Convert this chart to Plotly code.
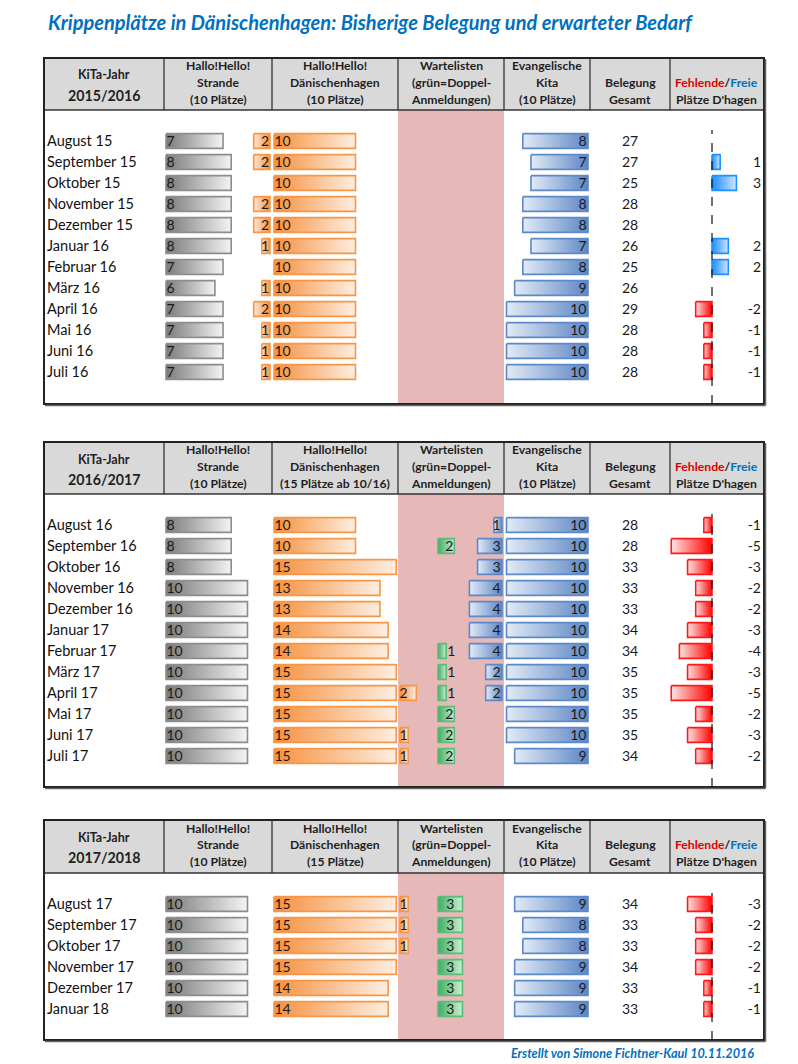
import plotly.graph_objects as go

W, H = 798, 1064
U = 8.15      # pixels per place on the shared x axis
ROW = 21      # pixels per row
FONT = "Lato"

# ------------------------------------------------------------------ data
title_text = "Krippenplätze in Dänischenhagen: Bisherige Belegung und erwarteter Bedarf"
footer_text = "Erstellt von Simone Fichtner-Kaul 10.11.2016"

years = ["2015/2016", "2016/2017", "2017/2018"]
daen_headers = ["(10 Plätze)", "(15 Plätze ab 10/16)", "(15 Plätze)"]

months_1 = ["August 15", "September 15", "Oktober 15", "November 15", "Dezember 15", "Januar 16",
            "Februar 16", "März 16", "April 16", "Mai 16", "Juni 16", "Juli 16"]
strande_1 = [7, 8, 8, 8, 8, 8, 7, 6, 7, 7, 7, 7]
daen_1 = [10, 10, 10, 10, 10, 10, 10, 10, 10, 10, 10, 10]
wait_orange_1 = [2, 2, 0, 2, 2, 1, 0, 1, 2, 1, 1, 1]
wait_green_1 = [0, 0, 0, 0, 0, 0, 0, 0, 0, 0, 0, 0]
wait_blue_1 = [0, 0, 0, 0, 0, 0, 0, 0, 0, 0, 0, 0]
evang_1 = [8, 7, 7, 8, 8, 7, 8, 9, 10, 10, 10, 10]
gesamt_1 = [27, 27, 25, 28, 28, 26, 25, 26, 29, 28, 28, 28]
diff_1 = [0, 1, 3, 0, 0, 2, 2, 0, -2, -1, -1, -1]

months_2 = ["August 16", "September 16", "Oktober 16", "November 16", "Dezember 16", "Januar 17",
            "Februar 17", "März 17", "April 17", "Mai 17", "Juni 17", "Juli 17"]
strande_2 = [8, 8, 8, 10, 10, 10, 10, 10, 10, 10, 10, 10]
daen_2 = [10, 10, 15, 13, 13, 14, 14, 15, 15, 15, 15, 15]
wait_orange_2 = [0, 0, 0, 0, 0, 0, 0, 0, 2, 0, 1, 1]
wait_green_2 = [0, 2, 0, 0, 0, 0, 1, 1, 1, 2, 2, 2]
wait_blue_2 = [1, 3, 3, 4, 4, 4, 4, 2, 2, 0, 0, 0]
evang_2 = [10, 10, 10, 10, 10, 10, 10, 10, 10, 10, 10, 9]
gesamt_2 = [28, 28, 33, 33, 33, 34, 34, 35, 35, 35, 35, 34]
diff_2 = [-1, -5, -3, -2, -2, -3, -4, -3, -5, -2, -3, -2]

months_3 = ["August 17", "September 17", "Oktober 17", "November 17", "Dezember 17", "Januar 18"]
strande_3 = [10, 10, 10, 10, 10, 10]
daen_3 = [15, 15, 15, 15, 14, 14]
wait_orange_3 = [1, 1, 1, 0, 0, 0]
wait_green_3 = [3, 3, 3, 3, 3, 3]
wait_blue_3 = [0, 0, 0, 0, 0, 0]
evang_3 = [9, 8, 8, 9, 9, 9]
gesamt_3 = [34, 33, 33, 34, 33, 33]
diff_3 = [-3, -2, -2, -2, -1, -1]

# ------------------------------------------------------------------ layout constants
TABLES = [
    dict(top=58, hdr=110, bot=404, orange_left=True),
    dict(top=442, hdr=494, bot=787, orange_left=False),
    dict(top=820, hdr=873, bot=1040, orange_left=False),
]
X_L, X_R = 44, 764
SEPS = [164, 272, 398, 504, 590, 670]
PINK = (398, 504)

X_STRANDE = 166
X_DAEN = 274
X_ORANGE_T1_END = 270
X_ORANGE = 400
X_GREEN = 438
X_BLUE_END = 502
X_EVANG_END = 588
X_GESAMT = 630
X_ZERO = 712
X_DIFF_LBL = 761
BAR_H = 0.35

STY = {
    "gray":   (["#7a7a7a", "#f4f4f4"], "#8d8d8d"),
    "orange": (["#f6913e", "#fdeee2"], "#f79646"),
    "orange_r": (["#fde9d9", "#f6913e"], "#f79646"),
    "green":  (["#3fae62", "#c9efd3"], "#5dbb78"),
    "blue":   (["#e3ebf6", "#5c86c4"], "#5b89c9"),
    "red":    (["#ffe4e4", "#ff0000"], "#ff1a1a"),
    "bfree":  (["#1a8cff", "#cfe6ff"], "#1e90ff"),
}

fig = go.Figure()


def py(y):
    return 1 - y / H


def bar(x0, x1, row, style, yref):
    cols, border = STY[style]
    fig.add_trace(go.Scatter(
        x=[x0, x1, x1, x0, x0],
        y=[row - BAR_H, row - BAR_H, row + BAR_H, row + BAR_H, row - BAR_H],
        mode="lines", fill="toself",
        fillgradient=dict(type="horizontal", colorscale=[[0, cols[0]], [1, cols[1]]]),
        line=dict(color=border, width=1.6),
        hoverinfo="skip", showlegend=False, yaxis=yref,
    ))


def labels(xs, rows, texts, pos, yref, size=14, color="#1a1a1a"):
    fig.add_trace(go.Scatter(
        x=xs, y=[r + 0.05 for r in rows], text=texts, mode="text", textposition=pos,
        textfont=dict(family=FONT, size=size, color=color),
        hoverinfo="skip", showlegend=False, yaxis=yref, cliponaxis=False,
    ))


datasets = [
    (months_1, strande_1, daen_1, wait_orange_1, wait_green_1, wait_blue_1, evang_1, gesamt_1, diff_1),
    (months_2, strande_2, daen_2, wait_orange_2, wait_green_2, wait_blue_2, evang_2, gesamt_2, diff_2),
    (months_3, strande_3, daen_3, wait_orange_3, wait_green_3, wait_blue_3, evang_3, gesamt_3, diff_3),
]

shapes = []
annotations = []

for ti, (t, data) in enumerate(zip(TABLES, datasets)):
    months, strande, daen, w_or, w_gr, w_bl, evang, gesamt, diff = data
    n = len(months)
    yref = "y" if ti == 0 else f"y{ti + 1}"
    axname = "yaxis" if ti == 0 else f"yaxis{ti + 1}"
    first = t["hdr"] + 31
    fig.update_layout(**{axname: dict(
        domain=[py(t["bot"]), py(t["hdr"])],
        range=[(t["bot"] - first) / ROW, -(first - t["hdr"]) / ROW],
        visible=False, fixedrange=True)})
    rows = list(range(n))

    # background / frame shapes
    shapes.append(dict(type="rect", xref="x", yref="paper", x0=X_L, x1=X_R,
                       y0=py(t["hdr"]), y1=py(t["top"]), fillcolor="#d9d9d9",
                       line=dict(width=0), layer="below"))
    shapes.append(dict(type="rect", xref="x", yref="paper", x0=PINK[0], x1=PINK[1],
                       y0=py(t["bot"]), y1=py(t["hdr"]), fillcolor="#e6b9b8",
                       line=dict(width=0), layer="below"))
    for sx in SEPS:
        shapes.append(dict(type="line", xref="x", yref="paper", x0=sx, x1=sx,
                           y0=py(t["hdr"]), y1=py(t["top"]), line=dict(color="#333", width=1.3)))
    shapes.append(dict(type="line", xref="x", yref="paper", x0=X_L, x1=X_R,
                       y0=py(t["hdr"]), y1=py(t["hdr"]), line=dict(color="#333", width=1.3)))
    shapes.append(dict(type="rect", xref="x", yref="paper", x0=X_L, x1=X_R,
                       y0=py(t["bot"]), y1=py(t["top"]), line=dict(color="#222", width=2)))
    # soft shadow on right / bottom edges
    shapes.append(dict(type="line", xref="x", yref="paper", x0=X_L + 1, x1=X_R + 1.5,
                       y0=py(t["bot"] + 1.5), y1=py(t["bot"] + 1.5), line=dict(color="#666", width=1.5)))
    shapes.append(dict(type="line", xref="x", yref="paper", x0=X_R + 1.5, x1=X_R + 1.5,
                       y0=py(t["bot"] + 1.5), y1=py(t["top"] + 1), line=dict(color="#666", width=1.5)))
    shapes.append(dict(type="line", xref="x", yref="paper", x0=X_ZERO, x1=X_ZERO,
                       y0=py(t["bot"]), y1=py(first - 11), line=dict(color="#111", width=1.2, dash="dash")))

    # header texts
    top = t["top"]

    def hdr(x, y, text, size=12.2):
        annotations.append(dict(x=x, y=py(top + y), xref="x", yref="paper", text=text,
                                showarrow=False, xanchor="center", yanchor="middle",
                                font=dict(family=FONT, size=size, color="#1f1f1f")))

    hdr(104, 17, "<b>KiTa-Jahr</b>", 12.5)
    hdr(104, 37.5, "<b>" + years[ti] + "</b>", 14.2)
    for x, lines in [(218, ["Hallo!Hello!", "Strande", "(10 Plätze)"]),
                     (335, ["Hallo!Hello!", "Dänischenhagen", daen_headers[ti]]),
                     (451, ["Wartelisten", "(grün=Doppel-", "Anmeldungen)"]),
                     (547, ["Evangelische", "Kita", "(10 Plätze)"])]:
        for k, ln in enumerate(lines):
            hdr(x, 8 + 16.8 * k, "<b>" + ln + "</b>")
    hdr(630, 24.8, "<b>Belegung</b>")
    hdr(630, 41.6, "<b>Gesamt</b>")
    hdr(716, 24.8, "<b><span style='color:#e00000'>Fehlende</span>/<span style='color:#0070c0'>Freie</span></b>")
    hdr(716, 41.6, "<b>Plätze D'hagen</b>")

    # bars
    for r in rows:
        bar(X_STRANDE, X_STRANDE + strande[r] * U, r, "gray", yref)
        bar(X_DAEN, X_DAEN + daen[r] * U, r, "orange", yref)
        if w_or[r]:
            if t["orange_left"]:
                bar(X_ORANGE_T1_END - w_or[r] * U, X_ORANGE_T1_END, r, "orange_r", yref)
            else:
                bar(X_ORANGE, X_ORANGE + w_or[r] * U, r, "orange", yref)
        if w_gr[r]:
            bar(X_GREEN, X_GREEN + w_gr[r] * U, r, "green", yref)
        if w_bl[r]:
            bar(X_BLUE_END - w_bl[r] * U, X_BLUE_END, r, "blue", yref)
        bar(X_EVANG_END - evang[r] * U, X_EVANG_END, r, "blue", yref)
        if diff[r] > 0:
            bar(X_ZERO, X_ZERO + diff[r] * U, r, "bfree", yref)
        elif diff[r] < 0:
            bar(X_ZERO + diff[r] * U, X_ZERO, r, "red", yref)

    # texts
    labels([47] * n, rows, months, "middle right", yref, size=14.5, color="#111")
    labels([X_STRANDE + 0.5] * n, rows, [str(v) for v in strande], "middle right", yref)
    labels([X_DAEN + 0.5] * n, rows, [str(v) for v in daen], "middle right", yref)
    if t["orange_left"]:
        labels([X_ORANGE_T1_END - 1] * n, rows, [str(v) if v else "" for v in w_or], "middle left", yref)
    else:
        labels([X_ORANGE - 0.5] * n, rows, [str(v) if v else "" for v in w_or], "middle right", yref)
    for r in rows:
        v = w_gr[r]
        if v == 1:
            labels([X_GREEN + v * U + 1], [r], ["1"], "middle right", yref)
        elif v == 2:
            labels([X_GREEN + v * U - 1], [r], [str(v)], "middle left", yref)
        elif v > 2:
            labels([X_GREEN + v * U / 2], [r], [str(v)], "middle center", yref)
    labels([X_BLUE_END - 1.5] * n, rows, [str(v) if v else "" for v in w_bl], "middle left", yref)
    labels([X_EVANG_END - 1.5] * n, rows, [str(v) for v in evang], "middle left", yref)
    labels([X_GESAMT] * n, rows, [str(v) for v in gesamt], "middle center", yref)
    labels([X_DIFF_LBL] * n, rows, [str(v) if v else "" for v in diff], "middle left", yref)

annotations.append(dict(x=46, y=py(22), xref="x", yref="paper", text="<b><i>" + title_text + "</i></b>",
                        showarrow=False, xanchor="left", yanchor="middle",
                        font=dict(family=FONT, size=20, color="#0070c0")))
annotations.append(dict(x=756, y=py(1053), xref="x", yref="paper", text="<b><i>" + footer_text + "</i></b>",
                        showarrow=False, xanchor="right", yanchor="middle",
                        font=dict(family=FONT, size=12.6, color="#0070c0")))

fig.update_layout(
    width=W, height=H, margin=dict(l=0, r=0, t=0, b=0),
    paper_bgcolor="white", plot_bgcolor="rgba(0,0,0,0)",
    xaxis=dict(range=[0, W], domain=[0, 1], visible=False, fixedrange=True),
    shapes=shapes, annotations=annotations, showlegend=False,
)

fig.write_html("out.html", config={"displayModeBar": False},
               post_script="document.body.style.margin='0';")
